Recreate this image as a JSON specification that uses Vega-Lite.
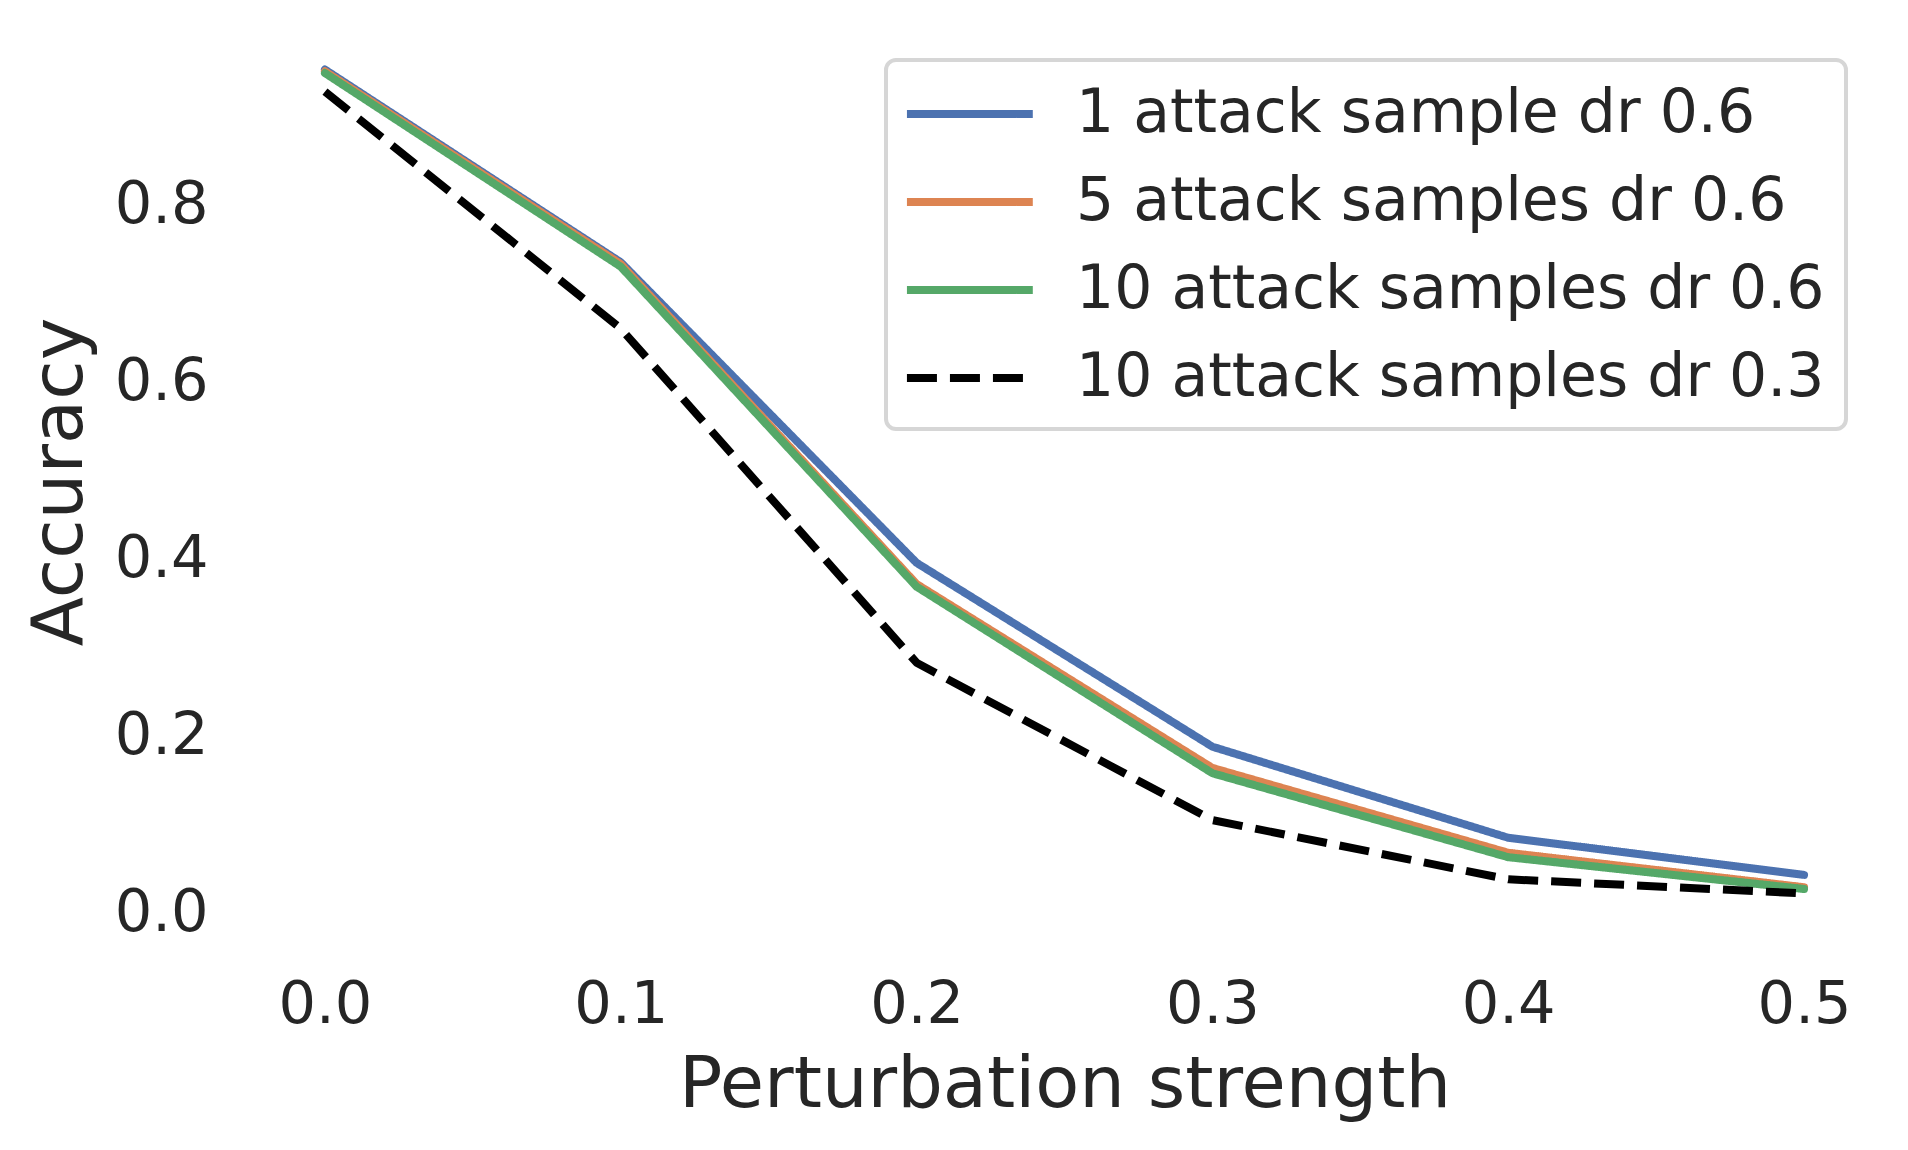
{
  "$schema": "https://vega.github.io/schema/vega-lite/v6.json",
  "width": 1627,
  "height": 907,
  "autosize": {"type": "none"},
  "padding": {"left": 251, "top": 28, "right": 30, "bottom": 215},
  "background": "white",
  "config": {
    "view": {"stroke": null},
    "font": "DejaVu Sans",
    "axis": {
      "ticks": false,
      "domain": false,
      "grid": false,
      "labelFontSize": 59,
      "labelColor": "#262626",
      "titleFontSize": 72,
      "titleColor": "#262626",
      "titleFontWeight": "normal",
      "labelFlush": false
    },
    "legend": {
      "orient": "top-right",
      "offset": 32,
      "symbolType": "M-1.14,0H3.2",
      "symbolSize": 3364,
      "symbolStrokeWidth": 8,
      "labelFontSize": 60,
      "labelColor": "#262626",
      "labelLimit": 0,
      "padding": 21,
      "rowPadding": 25,
      "labelOffset": 103,
      "cornerRadius": 10,
      "strokeColor": "#d6d6d6",
      "strokeWidth": 4,
      "fillColor": "white"
    }
  },
  "data": {
    "values": [
      {"series": "1 attack sample dr 0.6", "strength": 0.0, "accuracy": 0.953},
      {"series": "1 attack sample dr 0.6", "strength": 0.1, "accuracy": 0.735},
      {"series": "1 attack sample dr 0.6", "strength": 0.2, "accuracy": 0.395},
      {"series": "1 attack sample dr 0.6", "strength": 0.3, "accuracy": 0.187},
      {"series": "1 attack sample dr 0.6", "strength": 0.4, "accuracy": 0.084},
      {"series": "1 attack sample dr 0.6", "strength": 0.5, "accuracy": 0.042},
      {"series": "5 attack samples dr 0.6", "strength": 0.0, "accuracy": 0.951},
      {"series": "5 attack samples dr 0.6", "strength": 0.1, "accuracy": 0.733},
      {"series": "5 attack samples dr 0.6", "strength": 0.2, "accuracy": 0.371},
      {"series": "5 attack samples dr 0.6", "strength": 0.3, "accuracy": 0.163},
      {"series": "5 attack samples dr 0.6", "strength": 0.4, "accuracy": 0.067},
      {"series": "5 attack samples dr 0.6", "strength": 0.5, "accuracy": 0.028},
      {"series": "10 attack samples dr 0.6", "strength": 0.0, "accuracy": 0.949},
      {"series": "10 attack samples dr 0.6", "strength": 0.1, "accuracy": 0.730},
      {"series": "10 attack samples dr 0.6", "strength": 0.2, "accuracy": 0.368},
      {"series": "10 attack samples dr 0.6", "strength": 0.3, "accuracy": 0.157},
      {"series": "10 attack samples dr 0.6", "strength": 0.4, "accuracy": 0.062},
      {"series": "10 attack samples dr 0.6", "strength": 0.5, "accuracy": 0.026},
      {"series": "10 attack samples dr 0.3", "strength": 0.0, "accuracy": 0.928},
      {"series": "10 attack samples dr 0.3", "strength": 0.1, "accuracy": 0.660},
      {"series": "10 attack samples dr 0.3", "strength": 0.2, "accuracy": 0.282},
      {"series": "10 attack samples dr 0.3", "strength": 0.3, "accuracy": 0.104},
      {"series": "10 attack samples dr 0.3", "strength": 0.4, "accuracy": 0.037},
      {"series": "10 attack samples dr 0.3", "strength": 0.5, "accuracy": 0.021}
    ]
  },
  "encoding": {
    "x": {
      "field": "strength",
      "type": "quantitative",
      "scale": {"domain": [-0.025, 0.525], "nice": false, "zero": false},
      "axis": {
        "values": [0, 0.1, 0.2, 0.3, 0.4, 0.5],
        "format": ".1f",
        "title": "Perturbation strength",
        "labelPadding": 40,
        "titlePadding": 15
      }
    },
    "y": {
      "field": "accuracy",
      "type": "quantitative",
      "scale": {"domain": [-0.026, 1.0], "nice": false, "zero": false},
      "axis": {
        "values": [0, 0.2, 0.4, 0.6, 0.8],
        "format": ".1f",
        "title": "Accuracy",
        "labelPadding": 43,
        "titlePadding": 18
      }
    },
    "color": {
      "field": "series",
      "type": "nominal",
      "scale": {
        "domain": ["1 attack sample dr 0.6", "5 attack samples dr 0.6", "10 attack samples dr 0.6", "10 attack samples dr 0.3"],
        "range": ["#4C72B0", "#DD8452", "#55A868", "#000000"]
      },
      "legend": {"title": null}
    },
    "strokeDash": {
      "field": "series",
      "type": "nominal",
      "scale": {
        "domain": ["1 attack sample dr 0.6", "5 attack samples dr 0.6", "10 attack samples dr 0.6", "10 attack samples dr 0.3"],
        "range": [[1, 0], [1, 0], [1, 0], [30, 13]]
      },
      "legend": {"title": null}
    }
  },
  "layer": [
    {
      "transform": [{"filter": "datum.series !== '10 attack samples dr 0.3'"}],
      "mark": {"type": "line", "strokeWidth": 8, "strokeCap": "round", "strokeJoin": "round"}
    },
    {
      "transform": [{"filter": "datum.series === '10 attack samples dr 0.3'"}],
      "mark": {"type": "line", "strokeWidth": 8, "strokeCap": "butt", "strokeJoin": "round"}
    }
  ]
}
